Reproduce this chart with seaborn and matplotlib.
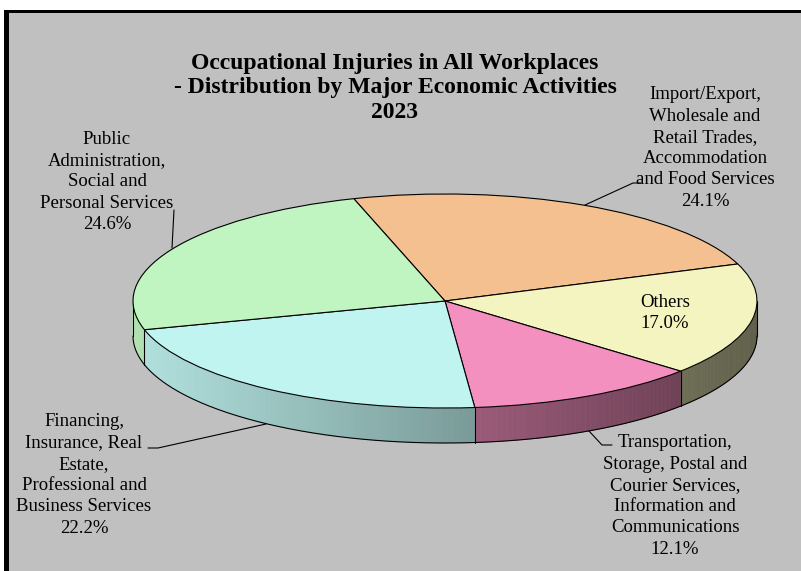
import numpy as np
import seaborn as sns
import matplotlib.pyplot as plt
from matplotlib.patches import Rectangle

# data (clockwise from the top-left boundary)
sectors = ['Import/Export,\nWholesale and\nRetail Trades,\nAccommodation\nand Food Services',
           'Others',
           'Transportation,\nStorage, Postal and\nCourier Services,\nInformation and\nCommunications',
           'Financing,\nInsurance, Real\nEstate,\nProfessional and\nBusiness Services',
           'Public\nAdministration,\nSocial and\nPersonal Services']
shares = [24.1, 17.0, 12.1, 22.2, 24.6]
colors = ['#f4c090', '#f4f4c0', '#f490c0', '#c0f4f0', '#c0f4c0']
title = 'Occupational Injuries in All Workplaces\n- Distribution by Major Economic Activities\n2023'

sns.set_theme(style='white')
plt.rcParams['font.family'] = ['Liberation Serif', 'DejaVu Serif']
plt.rcParams['text.color'] = 'black'

W, H = 801, 571
fig = plt.figure(figsize=(W / 100, H / 100), dpi=100)
fig.patch.set_facecolor('white')

# background panel with black left/top border
bg = fig.add_axes([0, 0, 1, 1], zorder=0)
bg.set_xlim(0, W)
bg.set_ylim(H, 0)
bg.axis('off')
bg.add_patch(Rectangle((4, 10), W, H, facecolor='#c0c0c0', edgecolor='none'))
bg.add_patch(Rectangle((4, 10), 5, H, facecolor='black', edgecolor='none'))
bg.add_patch(Rectangle((4, 10), W, 3, facecolor='black', edgecolor='none'))

# pie axes: unit circle mapped to an ellipse (rx=312px, ry=107px)
cx, cy, rx, ry = 445, 301, 312, 107
x0, x1, y0, y1 = -1.1, 1.1, -1.6, 1.2
ax = fig.add_axes([(cx + x0 * rx) / W, (H - (cy - y0 * ry)) / H,
                   (x1 - x0) * rx / W, (y1 - y0) * ry / H], zorder=1)
ax.patch.set_alpha(0)
depth = 35 / ry
start = 107

ax.pie(shares, colors=colors, startangle=start, counterclock=False, radius=1,
       wedgeprops=dict(edgecolor='black', linewidth=0.8), normalize=True)
ax.set_aspect('auto')
ax.set_xlim(x0, x1)
ax.set_ylim(y0, y1)
ax.axis('off')


def shade(c, ang):
    f = np.clip(0.66 - 0.27 * np.cos(np.radians(ang)), 0, 1)
    rgb = np.array(plt.matplotlib.colors.to_rgb(c))
    return tuple(rgb * f)


# side walls of the front half (angles -180..0)
cum = 0
bounds = []
for v, c in zip(shares, colors):
    a_hi = start - cum * 3.6
    a_lo = a_hi - v * 3.6
    cum += v
    bounds.append(a_lo)
    for shift in (-360, 0, 360):
        lo = max(a_lo + shift, -180)
        hi = min(a_hi + shift, 0)
        if hi <= lo:
            continue
        angs = np.linspace(lo, hi, max(2, int(hi - lo) + 1))
        for a, b in zip(angs[:-1], angs[1:]):
            ta, tb = np.radians(a), np.radians(b)
            xs = [np.cos(ta), np.cos(tb), np.cos(tb), np.cos(ta)]
            ys = [np.sin(ta), np.sin(tb), np.sin(tb) - depth, np.sin(ta) - depth]
            col = shade(c, (a + b) / 2)
            ax.fill(xs, ys, color=col, lw=0.4, zorder=0)

t = np.radians(np.linspace(-180, 0, 300))
ax.plot(np.cos(t), np.sin(t) - depth, color='black', lw=0.8, zorder=0.5)
for a in bounds + [-180, 0]:
    a = (a + 180) % 360 - 180 if a < -180 else a
    if -180 <= a <= 0:
        r = np.radians(a)
        ax.plot([np.cos(r)] * 2, [np.sin(r), np.sin(r) - depth], color='black', lw=0.8, zorder=0.5)

# text layer
tx = fig.add_axes([0, 0, 1, 1], zorder=2)
tx.set_xlim(0, W)
tx.set_ylim(H, 0)
tx.axis('off')
tx.patch.set_alpha(0)

tx.text(395, 88, title, ha='center', va='center', fontsize=17, fontweight='bold',
        linespacing=1.22, color='black')

label_pos = [(705, 148), (665, 313), (675, 496), (84, 475), (107, 182)]
for name, v, (lx, ly) in zip(sectors, shares, label_pos):
    tx.text(lx, ly, f'{name}\n{v:.1f}%', ha='center', va='center', fontsize=13.5,
            linespacing=1.33, color='black')

leaders = [([585, 633, 641], [205, 183, 183]),
           ([589, 602, 612], [431, 445, 445]),
           ([266, 158, 148], [424, 448, 448]),
           ([174, 172], [210, 248])]
for xs, ys in leaders:
    tx.plot(xs, ys, color='black', lw=0.8)

fig.savefig('out.png', dpi=100)
